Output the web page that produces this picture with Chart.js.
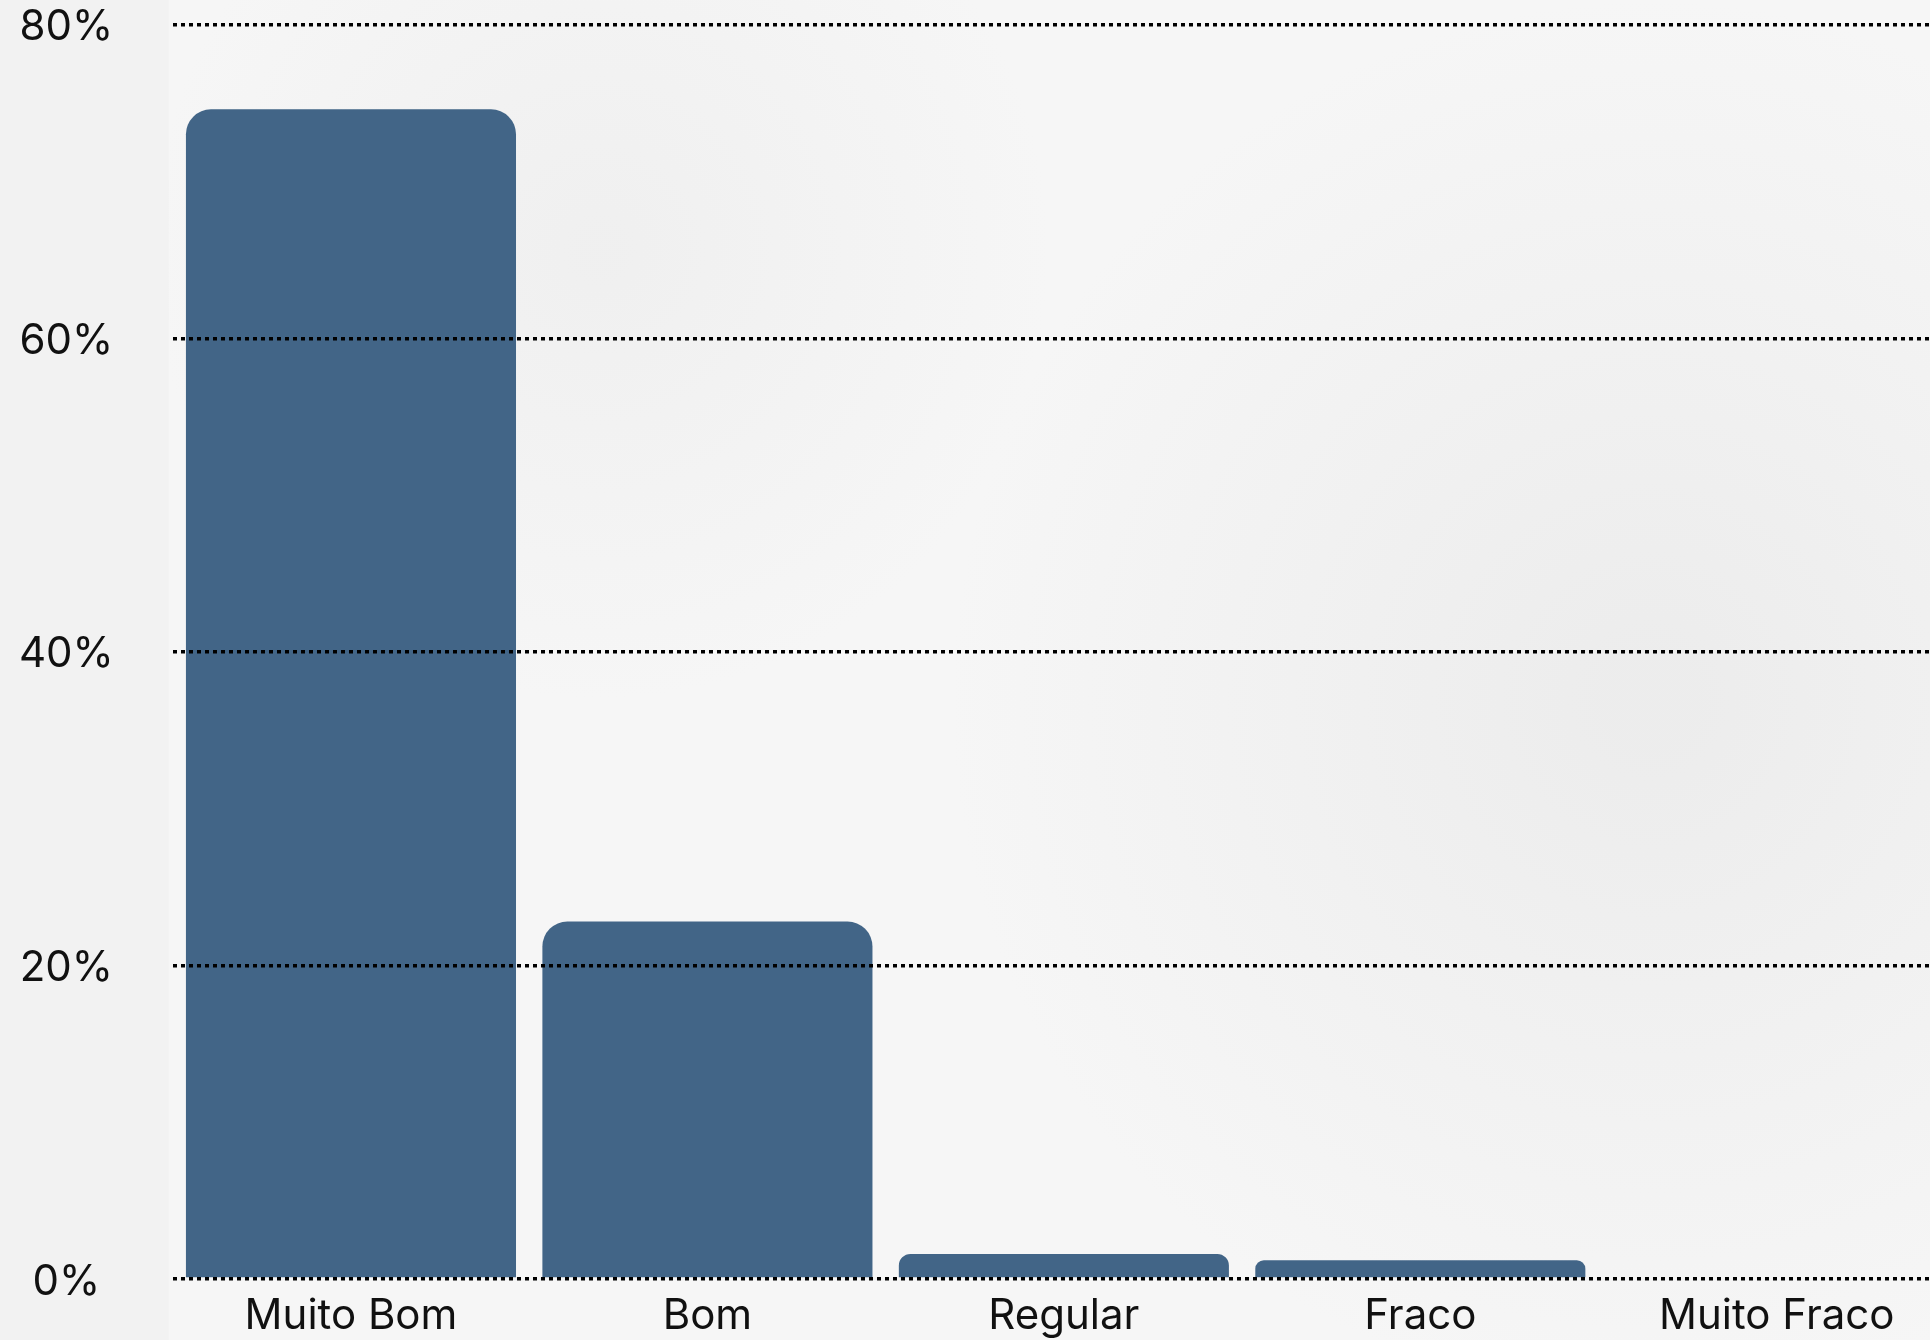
<!DOCTYPE html>
<html lang="pt">
<head>
  <meta charset="UTF-8" />
  <title>Avaliação</title>
  <script src="https://cdn.jsdelivr.net/npm/chart.js"></script>
  <style>
    html, body {
      margin: 0;
      padding: 0;
      overflow: hidden;
      background-color: #f2f2f2;
    }
    #wrap {
      position: absolute;
      left: 0;
      top: 0;
      width: 1955px;
      height: 1340px;
    }
  </style>
</head>
<body>
  <div id="wrap">
    <canvas id="ratingChart" width="1955" height="1340"></canvas>
  </div>

  <script>
    const categories = ["Muito Bom", "Bom", "Regular", "Fraco", "Muito Fraco"];
    const shares = [74.6, 22.8, 1.6, 1.2, 0];
    const yTicks = [0, 20, 40, 60, 80];

    const labelFont = { family: "Inter", size: 42, weight: "400" };

    // lighter "paper" panel behind the plot, like the textured area in the original
    const panelBackground = {
      id: "panelBackground",
      beforeDraw(chart) {
        const { ctx, chartArea, width, height } = chart;
        ctx.save();
        const x0 = chartArea.left - 4;
        ctx.fillStyle = "#f6f6f6";
        ctx.fillRect(x0, 0, width - x0, height);
        const g = ctx.createRadialGradient(1650, 700, 50, 1650, 700, 700);
        g.addColorStop(0, "rgba(225,225,225,0.45)");
        g.addColorStop(1, "rgba(225,225,225,0)");
        ctx.fillStyle = g;
        ctx.fillRect(x0, 0, width - x0, height);
        const g2 = ctx.createRadialGradient(600, 250, 20, 600, 250, 450);
        g2.addColorStop(0, "rgba(228,228,228,0.35)");
        g2.addColorStop(1, "rgba(228,228,228,0)");
        ctx.fillStyle = g2;
        ctx.fillRect(x0, 0, width - x0, height);
        ctx.restore();
      }
    };

    const ctx = document.getElementById("ratingChart").getContext("2d");
    new Chart(ctx, {
      type: "bar",
      data: {
        labels: categories,
        datasets: [{
          data: shares,
          backgroundColor: "#426587",
          borderRadius: 25,
          borderSkipped: "start",
          categoryPercentage: 1,
          barPercentage: 0.926
        }]
      },
      options: {
        responsive: false,
        animation: false,
        layout: { padding: { top: 24.7, left: 0, right: 0, bottom: 0 } },
        plugins: {
          legend: { display: false },
          tooltip: { enabled: false }
        },
        scales: {
          x: {
            offset: true,
            grid: { display: false, drawTicks: false },
            border: { display: false },
            ticks: {
              color: "#111",
              font: labelFont,
              padding: 12,
              maxRotation: 0,
              autoSkip: false
            },
            afterFit(scale) { scale.height = 61; }
          },
          y: {
            min: 0,
            max: 80,
            afterBuildTicks(scale) {
              scale.ticks = yTicks.map(v => ({ value: v }));
            },
            grid: {
              color: "#000",
              lineWidth: 3.5,
              drawTicks: false,
              z: 1
            },
            border: { display: false, dash: [4, 4] },
            ticks: {
              color: "#111",
              font: labelFont,
              crossAlign: "center",
              padding: 59,
              labelOffset: 3,
              callback: v => v + "%"
            },
            afterFit(scale) {
              scale.width = 172.75;
              scale.paddingTop = 0;
              scale.paddingBottom = 0;
            }
          }
        }
      },
      plugins: [panelBackground]
    });
  </script>
</body>
</html>
